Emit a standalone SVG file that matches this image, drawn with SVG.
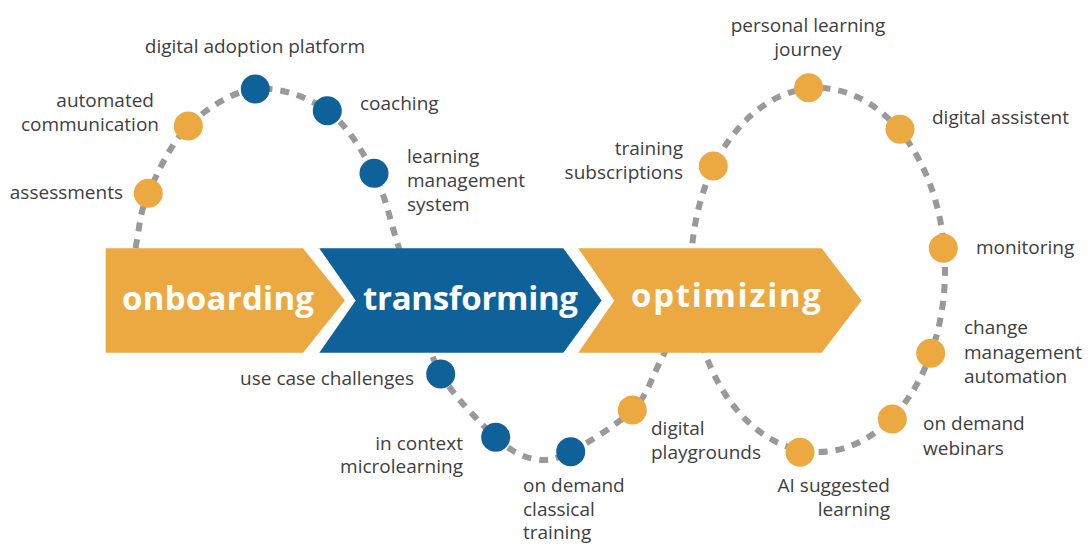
<svg xmlns="http://www.w3.org/2000/svg" width="1088" height="544" viewBox="0 0 1088 544">
  <defs>
    <style>
      .lbl { font-family: "Open Sans", "Noto Sans", "DejaVu Sans", sans-serif; font-size: 19px; fill: #404040; }
      .end { text-anchor: end; }
      .mid { text-anchor: middle; }
      .phase { font-family: "Open Sans", "Noto Sans", "DejaVu Sans", sans-serif; font-weight: bold; font-size: 33px; fill: #ffffff; }
      .orange { fill: #ECA942; }
      .blue { fill: #0E6199; }
      .path { fill: none; stroke: #999999; stroke-width: 6; stroke-dasharray: 9 8; }
    </style>
  </defs>
  <rect width="1088" height="544" fill="#ffffff"/>

  <g id="connectors">
    <path class="path" d="M134,265 C135,256.67 134.62,251.95 137,240 C139.38,228.05 139.75,212.3 148.3,193.3 C156.85,174.3 170.47,143.38 188.3,126 C206.13,108.62 232.13,91.55 255.3,89 C278.47,86.45 307.52,96.65 327.3,110.7 C347.08,124.75 362.22,150.92 374,173.3 C385.78,195.68 390.67,223.05 398,245 C405.33,266.95 410.88,283.5 418,305 C425.12,326.5 427.75,351.95 440.7,374 C453.65,396.05 480.15,423.13 495.7,437.3 C511.25,451.47 521.5,456.6 534,459 C546.5,461.4 554.32,459.87 570.7,451.7 C587.08,443.53 617.58,424.62 632.3,410 C647.02,395.38 649.08,384 659,364 C668.92,344 686.72,307.33 691.8,290 A127,182 0 1 1 700.8,340"/>
  </g>

  <g id="onboarding">
    <polygon class="orange" points="105.7,248.3 303,248.3 345,300.5 303,352.7 105.7,352.7"/>
    <text class="phase" x="122" y="310" textLength="192" lengthAdjust="spacing">onboarding</text>
  </g>
  <g id="transforming">
    <polygon class="blue" points="319.3,248.3 563.3,248.3 601.7,300.5 563.3,352.7 319.3,352.7 355.7,300.5"/>
    <text class="phase" x="363" y="310" textLength="215" lengthAdjust="spacing">transforming</text>
  </g>
  <g id="optimizing">
    <polygon class="orange" points="578.3,248.3 821.7,248.3 861.7,300.5 821.7,352.7 578.3,352.7 614.3,300.5"/>
    <text class="phase" x="631" y="307" textLength="190" lengthAdjust="spacing">optimizing</text>
  </g>

  <g id="assessments">
    <circle class="orange" cx="148.3" cy="193.3" r="14.5"/>
    <text class="lbl end" x="123" y="199">assessments</text>
  </g>
  <g id="automated-communication">
    <circle class="orange" cx="188.3" cy="126" r="14.5"/>
    <text class="lbl end" x="154" y="107">automated</text>
    <text class="lbl end" x="159" y="131">communication</text>
  </g>
  <g id="digital-adoption-platform">
    <circle class="blue" cx="255.3" cy="89" r="14.5"/>
    <text class="lbl mid" x="255" y="53">digital adoption platform</text>
  </g>
  <g id="coaching">
    <circle class="blue" cx="327.3" cy="110.7" r="14.5"/>
    <text class="lbl" x="360" y="110">coaching</text>
  </g>
  <g id="learning-management-system">
    <circle class="blue" cx="374" cy="173.3" r="14.5"/>
    <text class="lbl" x="407" y="162.5">learning</text>
    <text class="lbl" x="407" y="186.5">management</text>
    <text class="lbl" x="407" y="210.5">system</text>
  </g>
  <g id="use-case-challenges">
    <circle class="blue" cx="440.7" cy="374" r="14.5"/>
    <text class="lbl end" x="414" y="384.5">use case challenges</text>
  </g>
  <g id="in-context-microlearning">
    <circle class="blue" cx="495.7" cy="437.3" r="14.5"/>
    <text class="lbl end" x="463" y="449.5">in context</text>
    <text class="lbl end" x="463" y="473">microlearning</text>
  </g>
  <g id="on-demand-classical-training">
    <circle class="blue" cx="570.7" cy="451.7" r="14.5"/>
    <text class="lbl" x="523" y="491.5">on demand</text>
    <text class="lbl" x="523" y="515.5">classical</text>
    <text class="lbl" x="523" y="539">training</text>
  </g>
  <g id="digital-playgrounds">
    <circle class="orange" cx="632.3" cy="410" r="14.5"/>
    <text class="lbl" x="651" y="435">digital</text>
    <text class="lbl" x="651" y="459">playgrounds</text>
  </g>
  <g id="training-subscriptions">
    <circle class="orange" cx="713.3" cy="166" r="14.5"/>
    <text class="lbl end" x="683" y="155">training</text>
    <text class="lbl end" x="683" y="179">subscriptions</text>
  </g>
  <g id="personal-learning-journey">
    <circle class="orange" cx="808.7" cy="87.7" r="14.5"/>
    <text class="lbl mid" x="808" y="32">personal learning</text>
    <text class="lbl mid" x="808" y="56">journey</text>
  </g>
  <g id="digital-assistent">
    <circle class="orange" cx="900" cy="129.3" r="14.5"/>
    <text class="lbl" x="932" y="123.5">digital assistent</text>
  </g>
  <g id="monitoring">
    <circle class="orange" cx="943.3" cy="248.3" r="14.5"/>
    <text class="lbl" x="976" y="253.5">monitoring</text>
  </g>
  <g id="change-management-automation">
    <circle class="orange" cx="930.7" cy="353.3" r="14.5"/>
    <text class="lbl" x="964" y="334">change</text>
    <text class="lbl" x="964" y="358.5">management</text>
    <text class="lbl" x="964" y="383">automation</text>
  </g>
  <g id="on-demand-webinars">
    <circle class="orange" cx="892.3" cy="419" r="14.5"/>
    <text class="lbl" x="923" y="430">on demand</text>
    <text class="lbl" x="923" y="455">webinars</text>
  </g>
  <g id="ai-suggested-learning">
    <circle class="orange" cx="800" cy="452.3" r="14.5"/>
    <text class="lbl end" x="890" y="492">AI suggested</text>
    <text class="lbl end" x="890" y="515.5">learning</text>
  </g>
</svg>
